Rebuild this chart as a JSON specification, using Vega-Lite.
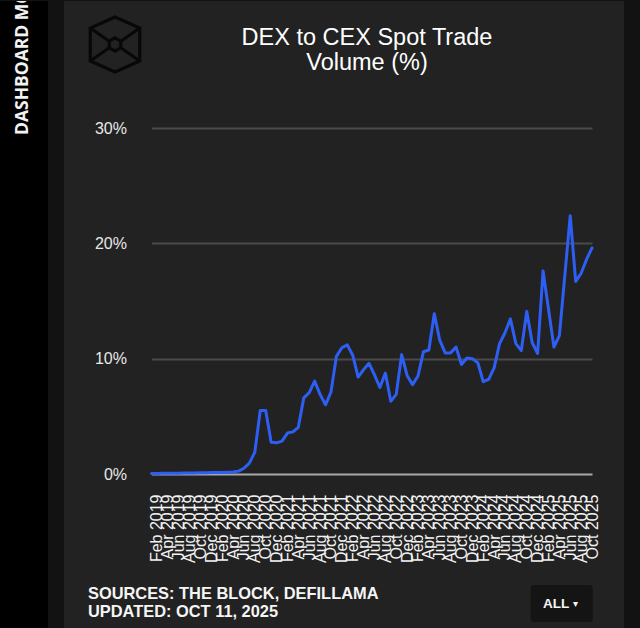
{
  "$schema": "https://vega.github.io/schema/vega-lite/v6.json",
  "background": "#121212",
  "padding": {"left": 0, "top": 0, "right": 16, "bottom": 0},
  "spacing": 16,
  "bounds": "flush",
  "config": {"view": {"stroke": null}, "font": "Liberation Sans"},
  "hconcat": [
    {
      "width": 48,
      "height": 628,
      "view": {"fill": "#000000", "stroke": null},
      "data": {"values": [{"label": "DASHBOARD MODE"}]},
      "mark": {"type": "text", "angle": 270, "align": "left", "baseline": "middle", "font": "Open Sans", "fontWeight": 700, "fontSize": 17.5, "letterSpacing": 4, "color": "#f2f2f2", "clip": true, "x": 23, "y": 134},
      "encoding": {"text": {"field": "label"}}
    },
    {
      "width": 560,
      "height": 628,
      "view": {"fill": "#222222", "stroke": null},
      "title": {
        "text": ["DEX to CEX Spot Trade", "Volume (%)"],
        "orient": "top",
        "anchor": "middle",
        "frame": "group",
        "font": "Liberation Sans",
        "fontSize": 23.5,
        "fontWeight": "normal",
        "color": "#ffffff",
        "lineHeight": 25,
        "baseline": "alphabetic",
        "offset": -93,
        "dx": 23
      },
      "layer": [
        {
          "data": {"values": [{}]},
          "mark": {
            "type": "point",
            "filled": false,
            "shape": "M0,-1L0.9,-0.6L0.9,0.6L0,1L-0.9,0.6L-0.9,-0.6ZM0,-0.24L0.21,-0.12L0.21,0.12L0,0.24L-0.21,0.12L-0.21,-0.12ZM-0.9,-0.6L-0.21,-0.12M0.9,-0.6L0.21,-0.12M-0.9,0.6L-0.21,0.12M0.9,0.6L0.21,0.12",
            "size": 3025,
            "stroke": "#080808",
            "strokeWidth": 3.2,
            "opacity": 1,
            "x": 51,
            "y": 43.5
          },
          "encoding": {}
        },
        {
          "data": {"values": [{}]},
          "mark": {"type": "rule", "color": "#7a2ec2", "strokeWidth": 2.5, "x": 24, "x2": 535, "y": 88.3},
          "encoding": {}
        },
        {
          "data": {
            "values": [
              {"month": "Jan 2019", "share": 0.05},
              {"month": "Feb 2019", "share": 0.05},
              {"month": "Mar 2019", "share": 0.06},
              {"month": "Apr 2019", "share": 0.06},
              {"month": "May 2019", "share": 0.07},
              {"month": "Jun 2019", "share": 0.07},
              {"month": "Jul 2019", "share": 0.08},
              {"month": "Aug 2019", "share": 0.08},
              {"month": "Sep 2019", "share": 0.09},
              {"month": "Oct 2019", "share": 0.1},
              {"month": "Nov 2019", "share": 0.11},
              {"month": "Dec 2019", "share": 0.12},
              {"month": "Jan 2020", "share": 0.13},
              {"month": "Feb 2020", "share": 0.14},
              {"month": "Mar 2020", "share": 0.15},
              {"month": "Apr 2020", "share": 0.17},
              {"month": "May 2020", "share": 0.25},
              {"month": "Jun 2020", "share": 0.5},
              {"month": "Jul 2020", "share": 0.95},
              {"month": "Aug 2020", "share": 1.9},
              {"month": "Sep 2020", "share": 5.5},
              {"month": "Oct 2020", "share": 5.5},
              {"month": "Nov 2020", "share": 2.75},
              {"month": "Dec 2020", "share": 2.7},
              {"month": "Jan 2021", "share": 2.85},
              {"month": "Feb 2021", "share": 3.55},
              {"month": "Mar 2021", "share": 3.65},
              {"month": "Apr 2021", "share": 4.05},
              {"month": "May 2021", "share": 6.6},
              {"month": "Jun 2021", "share": 7.05},
              {"month": "Jul 2021", "share": 8.05},
              {"month": "Aug 2021", "share": 6.9},
              {"month": "Sep 2021", "share": 6.0},
              {"month": "Oct 2021", "share": 7.1},
              {"month": "Nov 2021", "share": 10.2},
              {"month": "Dec 2021", "share": 10.95},
              {"month": "Jan 2022", "share": 11.2},
              {"month": "Feb 2022", "share": 10.3},
              {"month": "Mar 2022", "share": 8.4},
              {"month": "Apr 2022", "share": 9.05},
              {"month": "May 2022", "share": 9.6},
              {"month": "Jun 2022", "share": 8.6},
              {"month": "Jul 2022", "share": 7.5},
              {"month": "Aug 2022", "share": 8.75},
              {"month": "Sep 2022", "share": 6.3},
              {"month": "Oct 2022", "share": 6.9},
              {"month": "Nov 2022", "share": 10.35},
              {"month": "Dec 2022", "share": 8.55},
              {"month": "Jan 2023", "share": 7.75},
              {"month": "Feb 2023", "share": 8.5},
              {"month": "Mar 2023", "share": 10.6},
              {"month": "Apr 2023", "share": 10.75},
              {"month": "May 2023", "share": 13.9},
              {"month": "Jun 2023", "share": 11.6},
              {"month": "Jul 2023", "share": 10.5},
              {"month": "Aug 2023", "share": 10.5},
              {"month": "Sep 2023", "share": 11.0},
              {"month": "Oct 2023", "share": 9.5},
              {"month": "Nov 2023", "share": 10.05},
              {"month": "Dec 2023", "share": 10.0},
              {"month": "Jan 2024", "share": 9.65},
              {"month": "Feb 2024", "share": 8.0},
              {"month": "Mar 2024", "share": 8.2},
              {"month": "Apr 2024", "share": 9.2},
              {"month": "May 2024", "share": 11.3},
              {"month": "Jun 2024", "share": 12.25},
              {"month": "Jul 2024", "share": 13.45},
              {"month": "Aug 2024", "share": 11.3},
              {"month": "Sep 2024", "share": 10.7},
              {"month": "Oct 2024", "share": 14.1},
              {"month": "Nov 2024", "share": 11.4},
              {"month": "Dec 2024", "share": 10.45},
              {"month": "Jan 2025", "share": 17.6},
              {"month": "Feb 2025", "share": 14.3},
              {"month": "Mar 2025", "share": 11.0},
              {"month": "Apr 2025", "share": 12.0},
              {"month": "May 2025", "share": 17.2},
              {"month": "Jun 2025", "share": 22.4},
              {"month": "Jul 2025", "share": 16.7},
              {"month": "Aug 2025", "share": 17.4},
              {"month": "Sep 2025", "share": 18.6},
              {"month": "Oct 2025", "share": 19.6}
            ]
          },
          "mark": {"type": "line", "color": "#2d5ff5", "strokeWidth": 3, "strokeJoin": "round", "strokeCap": "round"},
          "encoding": {
            "x": {
              "field": "month",
              "type": "ordinal",
              "sort": null,
              "scale": {"type": "point", "padding": 0, "range": [87.5, 528]},
              "axis": {
                "orient": "bottom",
                "offset": -155,
                "title": null,
                "values": ["Feb 2019", "Apr 2019", "Jun 2019", "Aug 2019", "Oct 2019", "Dec 2019", "Feb 2020", "Apr 2020", "Jun 2020", "Aug 2020", "Oct 2020", "Dec 2020", "Feb 2021", "Apr 2021", "Jun 2021", "Aug 2021", "Oct 2021", "Dec 2021", "Feb 2022", "Apr 2022", "Jun 2022", "Aug 2022", "Oct 2022", "Dec 2022", "Feb 2023", "Apr 2023", "Jun 2023", "Aug 2023", "Oct 2023", "Dec 2023", "Feb 2024", "Apr 2024", "Jun 2024", "Aug 2024", "Oct 2024", "Dec 2024", "Feb 2025", "Apr 2025", "Jun 2025", "Aug 2025", "Oct 2025"],
                "labelAngle": 270,
                "labelFont": "Liberation Sans",
                "labelFontSize": 16,
                "labelColor": "#f2f2f2",
                "labelPadding": 20,
                "labelOverlap": false,
                "labelBound": false,
                "labelFlush": false,
                "ticks": false,
                "tickSize": 0,
                "domain": false,
                "grid": false
              }
            },
            "y": {
              "field": "share",
              "type": "quantitative",
              "scale": {"domain": [0, 30], "range": [473, 127], "nice": false, "zero": false},
              "axis": {
                "orient": "left",
                "offset": -87.5,
                "title": null,
                "values": [0, 10, 20, 30],
                "labelExpr": "datum.value + '%'",
                "labelFont": "Liberation Sans",
                "labelFontSize": 16,
                "labelColor": "#e8e8e8",
                "labelPadding": 25,
                "ticks": false,
                "tickSize": 0,
                "domain": false,
                "grid": true,
                "gridColor": {"condition": {"test": "datum.value === 0", "value": "#a8a8a8"}, "value": "#4a4a4a"},
                "gridWidth": 1.8
              }
            }
          }
        },
        {
          "data": {"values": [{}]},
          "mark": {"type": "text", "text": "SOURCES: THE BLOCK, DEFILLAMA", "x": 24, "y": 598.3, "align": "left", "baseline": "alphabetic", "font": "Liberation Sans", "fontWeight": "bold", "fontSize": 16.4, "color": "#f5f5f5"},
          "encoding": {}
        },
        {
          "data": {"values": [{}]},
          "mark": {"type": "text", "text": "UPDATED: OCT 11, 2025", "x": 24, "y": 616, "align": "left", "baseline": "alphabetic", "font": "Liberation Sans", "fontWeight": "bold", "fontSize": 16.4, "color": "#f5f5f5"},
          "encoding": {}
        },
        {
          "data": {"values": [{}]},
          "mark": {"type": "rule", "color": "#f5f5f5", "strokeWidth": 1.5, "x": 219.7, "x2": 315, "y": 600.8},
          "encoding": {}
        },
        {
          "data": {"values": [{}]},
          "mark": {"type": "rect", "fill": "#141414", "cornerRadius": 3, "x": 466.6, "x2": 528.7, "y": 584, "y2": 621},
          "encoding": {}
        },
        {
          "data": {"values": [{}]},
          "mark": {"type": "text", "text": "ALL", "x": 479, "y": 607, "align": "left", "baseline": "alphabetic", "font": "Liberation Sans", "fontWeight": "bold", "fontSize": 13.5, "color": "#f5f5f5"},
          "encoding": {}
        },
        {
          "data": {"values": [{}]},
          "mark": {"type": "text", "text": "▾", "x": 511.5, "y": 606, "align": "center", "baseline": "alphabetic", "font": "DejaVu Sans", "fontSize": 10, "color": "#f5f5f5"},
          "encoding": {}
        }
      ]
    }
  ]
}
